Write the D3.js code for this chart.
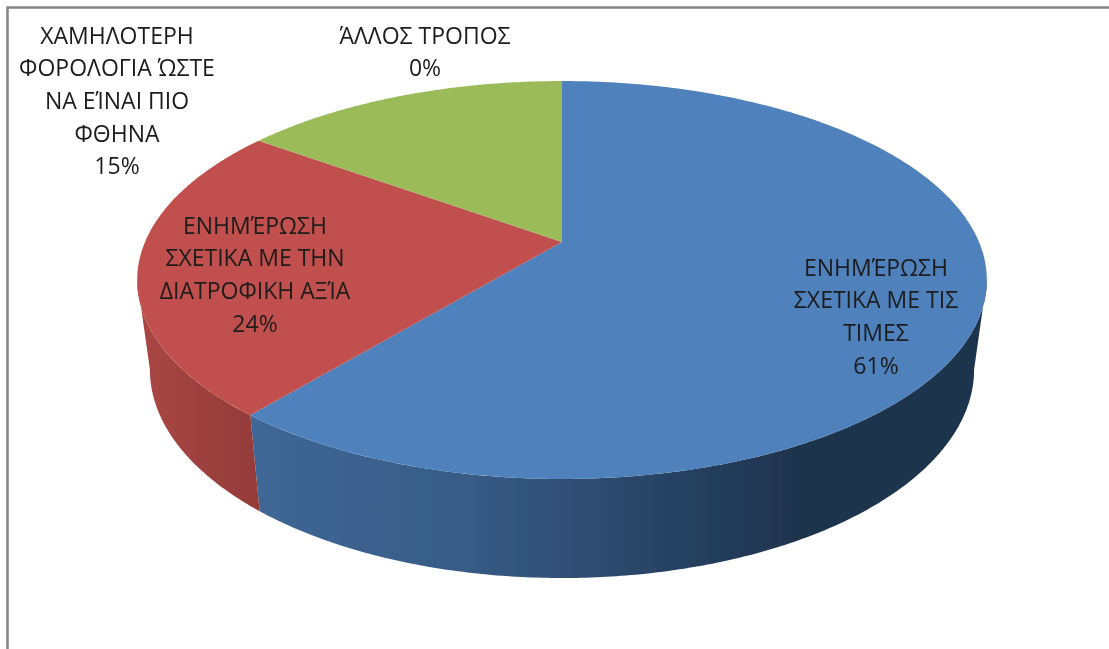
<!DOCTYPE html>
<html>
<head>
<meta charset="utf-8">
<script src="https://cdnjs.cloudflare.com/ajax/libs/d3/7.8.5/d3.min.js"></script>
<style>
  html, body { margin: 0; padding: 0; background: #fff; }
  svg { display: block; }
  text { font-family: "Open Sans", "Noto Sans", sans-serif; fill: #1c1c1c; }
</style>
</head>
<body>
<div id="chart"></div>
<script>
// chart values, in drawing order (clockwise from 12 o'clock)
const categories = [
  ["ΕΝΗΜΈΡΩΣΗ", "ΣΧΕΤΙΚΑ ΜΕ ΤΙΣ", "ΤΙΜΕΣ"],
  ["ΕΝΗΜΈΡΩΣΗ", "ΣΧΕΤΙΚΑ ΜΕ ΤΗΝ", "ΔΙΑΤΡΟΦΙΚΗ ΑΞΊΑ"],
  ["ΧΑΜΗΛΟΤΕΡΗ", "ΦΟΡΟΛΟΓΙΑ ΏΣΤΕ", "ΝΑ ΕΊΝΑΙ ΠΙΟ", "ΦΘΗΝΑ"],
  ["ΆΛΛΟΣ ΤΡΟΠΟΣ"]
];
const values = [61, 24, 15, 0];
const topColors = ["#4f81bd", "#c0504d", "#9bbb59", "#8064a2"];

// where the label blocks sit (centre x, centre y of first line)
const labelX = [876, 255, 117, 425];
const labelY = [267, 225, 35, 35];

let width = 1109;
let height = 649;
let lineStep = 32.7;

let svg = d3.select('#chart')
  .append('svg')
  .attr('width', width)
  .attr('height', height);

// perspective of a flat disc: v runs towards the viewer
function disc(cx, cy, rx, ry, k) {
  return function (a) {
    const u = Math.sin(a), v = -Math.cos(a);
    const f = 1 / (1 - k * v);
    return [cx + rx * u * f, cy + ry * v * f];
  };
}
const topCx = 562, topCy = 242;
const topDisc = disc(topCx, topCy, 417, 191.7, 0.191);
const bottomDisc = disc(topCx, 329.8, 404.5, 200.8, 0.191);
const lineGen = d3.line();

function arcPoints(project, a0, a1) {
  const n = Math.max(2, Math.ceil(Math.abs(a1 - a0) / 0.01));
  return d3.range(n + 1).map(i => project(a0 + (a1 - a0) * i / n));
}

const slices = d3.pie().sort(null).value(d => d)(values);

let defs = svg.append('defs');

// the reference is a slightly soft screenshot
defs.append('filter')
  .attr('id', 'soft')
  .attr('filterUnits', 'userSpaceOnUse')
  .attr('x', 0).attr('y', 0).attr('width', width).attr('height', height)
  .append('feGaussianBlur')
  .attr('stdDeviation', 0.5);

// side shading
function sideGradient(id, x1, x2, stops) {
  let g = defs.append('linearGradient')
    .attr('id', id)
    .attr('gradientUnits', 'userSpaceOnUse')
    .attr('x1', x1).attr('x2', x2).attr('y1', 0).attr('y2', 0);
  stops.forEach(s => g.append('stop').attr('offset', s[0]).attr('stop-color', s[1]));
}
sideGradient('sideBlue', 252, 980, [[0, '#406796'], [0.3, '#375b85'], [0.65, '#233b5a'], [0.75, '#1f344e'], [1, '#1f344e']]);
sideGradient('sideRed', 145, 262, [[0, '#a84643'], [1, '#933b39']]);

let chart = svg.append('g').attr('filter', 'url(#soft)');

// visible part of the rim runs between the two silhouette points
const rimStart = Math.acos(-0.191);
const rimEnd = 2 * Math.PI - rimStart;
const sideFills = ['url(#sideBlue)', 'url(#sideRed)'];

slices.forEach((s, i) => {
  const a0 = Math.max(s.startAngle, rimStart);
  const a1 = Math.min(s.endAngle, rimEnd);
  if (a1 <= a0) return;
  const pts = arcPoints(topDisc, a0, a1).concat(arcPoints(bottomDisc, a1, a0));
  chart.append('path')
    .attr('d', lineGen(pts) + 'Z')
    .attr('fill', sideFills[i]);
});

// top faces
slices.forEach((s, i) => {
  if (s.value === 0) return;
  const pts = [[topCx, topCy]].concat(arcPoints(topDisc, s.startAngle, s.endAngle));
  chart.append('path')
    .attr('d', lineGen(pts) + 'Z')
    .attr('fill', topColors[i]);
});

// labels
categories.forEach((lines, i) => {
  const all = lines.concat([values[i] + '%']);
  chart.append('g')
    .selectAll('text')
    .data(all)
    .enter()
    .append('text')
    .attr('text-anchor', 'middle')
    .attr('font-size', 23)
    .attr('x', labelX[i])
    .attr('y', (d, j) => labelY[i] + 8.5 + j * lineStep)
    .text(d => d);
});

// chart frame
chart.append('path')
  .attr('d', 'M7.5,660V7.5H1120')
  .attr('fill', 'none')
  .attr('stroke', '#848484')
  .attr('stroke-width', 2.5);
</script>
</body>
</html>
